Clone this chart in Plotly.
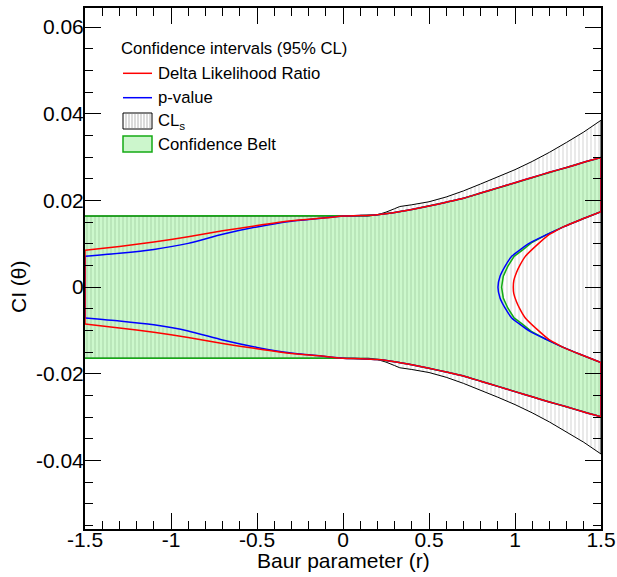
import plotly.graph_objects as go

# ---------------- data ----------------
x_tick_vals = [-1.5, -1.0, -0.5, 0.0, 0.5, 1.0, 1.5]
x_tick_text = ["-1.5", "-1", "-0.5", "0", "0.5", "1", "1.5"]
y_tick_vals = [-0.04, -0.02, 0.0, 0.02, 0.04, 0.06]
y_tick_text = ["-0.04", "-0.02", "0", "0.02", "0.04", "0.06"]

# CLs band (black boundary)
cls_x = [-1.5, -1.0, -0.5, 0.0, 0.1, 0.15, 0.2, 0.25, 0.3, 0.33, 0.4, 0.5,
         0.6, 0.7, 0.8, 0.9, 1.0, 1.1, 1.2, 1.3, 1.4, 1.5]
cls_upper = [0.0164, 0.0164, 0.0164, 0.0164, 0.0164, 0.0164, 0.0167, 0.0173,
             0.0181, 0.0186, 0.0190, 0.0197, 0.0208, 0.0222, 0.0238, 0.0254,
             0.0271, 0.0290, 0.0311, 0.0334, 0.0358, 0.0385]
cls_lower = [-0.0164, -0.0164, -0.0164, -0.0164, -0.0164, -0.0164, -0.0167, -0.0173,
             -0.0181, -0.0186, -0.0190, -0.0197, -0.0208, -0.0222, -0.0238, -0.0254,
             -0.0271, -0.0290, -0.0311, -0.0334, -0.0358, -0.0385]

# Confidence belt outer edges
belt_x = [-1.5, -1.0, -0.5, 0.0, 0.1, 0.2, 0.3, 0.4, 0.5, 0.6, 0.7, 0.8, 0.9,
          1.0, 1.1, 1.2, 1.3, 1.4, 1.5]
belt_upper = [0.0164, 0.0164, 0.0164, 0.0164, 0.0165, 0.0167, 0.0172, 0.0179,
              0.0187, 0.0196, 0.0205, 0.0217, 0.0229, 0.0241, 0.0253, 0.0265,
              0.0276, 0.0288, 0.0299]
belt_lower = [-0.0164, -0.0164, -0.0164, -0.0164, -0.0165, -0.0167, -0.0172, -0.0179,
              -0.0187, -0.0196, -0.0205, -0.0217, -0.0229, -0.0241, -0.0253, -0.0265,
              -0.0276, -0.0288, -0.0299]
# Confidence belt inner (right-hand) edge
belt_inner_y = [0.0174, 0.0155, 0.0139, 0.0121, 0.0102, 0.0086, 0.0071, 0.0048, 0.0025, 0.0,
                -0.0025, -0.0048, -0.0071, -0.0086, -0.0102, -0.0121, -0.0139, -0.0155, -0.0174]
belt_inner_x = [1.5, 1.378, 1.281, 1.184, 1.095, 1.045, 0.995, 0.958, 0.932, 0.922,
                0.932, 0.958, 0.995, 1.045, 1.095, 1.184, 1.281, 1.378, 1.5]

# outer curves of the two interval methods
curve_x = [-1.5, -1.3, -1.1, -0.9, -0.7, -0.5, -0.3, -0.1, 0.0, 0.1, 0.2, 0.3,
           0.4, 0.5, 0.6, 0.7, 0.8, 0.9, 1.0, 1.1, 1.2, 1.3, 1.4, 1.5]
dlr_upper = [0.0085, 0.0094, 0.0104, 0.0116, 0.0130, 0.0142, 0.0153, 0.0160,
             0.0164, 0.0165, 0.0167, 0.0172, 0.0179, 0.0187, 0.0196, 0.0205,
             0.0217, 0.0229, 0.0241, 0.0253, 0.0265, 0.0276, 0.0288, 0.0299]
dlr_lower = [-0.0085, -0.0094, -0.0104, -0.0116, -0.0130, -0.0142, -0.0153, -0.0160,
             -0.0164, -0.0165, -0.0167, -0.0172, -0.0179, -0.0187, -0.0196, -0.0205,
             -0.0217, -0.0229, -0.0241, -0.0253, -0.0265, -0.0276, -0.0288, -0.0299]
pval_upper = [0.0071, 0.0078, 0.0087, 0.0101, 0.0122, 0.0139, 0.0152, 0.0160,
              0.0164, 0.0165, 0.0167, 0.0172, 0.0179, 0.0187, 0.0196, 0.0205,
              0.0217, 0.0229, 0.0241, 0.0253, 0.0265, 0.0276, 0.0288, 0.0299]
pval_lower = [-0.0071, -0.0078, -0.0087, -0.0101, -0.0122, -0.0139, -0.0152, -0.0160,
              -0.0164, -0.0165, -0.0167, -0.0172, -0.0179, -0.0187, -0.0196, -0.0205,
              -0.0217, -0.0229, -0.0241, -0.0253, -0.0265, -0.0276, -0.0288, -0.0299]

# inner (right-hand) curves
dlr_inner_y = [0.0174, 0.0155, 0.0139, 0.0130, 0.0121, 0.0098, 0.0071, 0.0050, 0.0033, 0.0015, 0.0,
               -0.0015, -0.0033, -0.0050, -0.0071, -0.0098, -0.0121, -0.0130, -0.0139, -0.0155, -0.0174]
dlr_inner_x = [1.5, 1.378, 1.281, 1.238, 1.198, 1.13, 1.06, 1.028, 1.008, 0.993, 0.99,
               0.993, 1.008, 1.028, 1.06, 1.13, 1.198, 1.238, 1.281, 1.378, 1.5]
pval_inner_y = [0.0174, 0.0155, 0.0139, 0.0121, 0.0102, 0.0086, 0.0071, 0.0048, 0.0025, 0.0,
                -0.0025, -0.0048, -0.0071, -0.0086, -0.0102, -0.0121, -0.0139, -0.0155, -0.0174]
pval_inner_x = [1.5, 1.378, 1.281, 1.184, 1.087, 1.029, 0.981, 0.942, 0.913, 0.901,
                0.913, 0.942, 0.981, 1.029, 1.087, 1.184, 1.281, 1.378, 1.5]

legend_title = "Confidence intervals (95% CL)"
legend_labels = ["Delta Likelihood Ratio", "p-value", "CL<sub>s</sub>", "Confidence Belt"]

# ---------------- styles ----------------
RED = "#ff0000"
BLUE = "#0000ff"
GREEN = "rgb(20,170,20)"
GREEN_FILL = "rgba(0,220,0,0.2)"
HATCH = "#cfcfcf"

W, H = 617, 577
ML, MR, MT, MB = 85, 16, 8, 48
PW, PH = W - ML - MR, H - MT - MB


def pxx(p):  # pixel column -> paper x
    return (p - ML) / PW


def pxy(p):  # pixel row -> paper y
    return (H - MB - p) / PH


fig = go.Figure()

# CLs hatched band
fig.add_trace(go.Scatter(
    x=cls_x + cls_x[::-1], y=cls_upper + cls_lower[::-1],
    fill="toself", mode="lines", showlegend=False,
    line=dict(color="black", width=1),
    fillcolor="white",
    fillpattern=dict(shape="|", fgcolor=HATCH, bgcolor="white", size=4, solidity=0.45),
    hoverinfo="skip"))

# Confidence belt
bx = belt_x + belt_inner_x + belt_x[::-1]
by = belt_upper + belt_inner_y + belt_lower[::-1]
fig.add_trace(go.Scatter(
    x=bx, y=by, fill="toself", mode="lines", showlegend=False,
    line=dict(color=GREEN, width=1.5), fillcolor=GREEN_FILL, hoverinfo="skip"))


def region_outline(upper, lower, ix, iy):
    """Smooth curves plus the straight closing edges at the x-range borders."""
    xl, xr = curve_x[0], curve_x[-1]
    segs_x = [curve_x, curve_x, ix,
              [xl, xl], [xr, xr], [xr, xr]]
    segs_y = [upper, lower, iy,
              [upper[0], lower[0]], [upper[-1], iy[0]], [iy[-1], lower[-1]]]
    X, Y = [], []
    for xs, ys in zip(segs_x, segs_y):
        X += list(xs) + [None]
        Y += list(ys) + [None]
    return X[:-1], Y[:-1]


px_, py_ = region_outline(pval_upper, pval_lower, pval_inner_x, pval_inner_y)
fig.add_trace(go.Scatter(x=px_, y=py_, mode="lines", showlegend=False,
                         line=dict(color=BLUE, width=1.5, shape="spline", smoothing=0.6),
                         connectgaps=False, hoverinfo="skip"))
dx_, dy_ = region_outline(dlr_upper, dlr_lower, dlr_inner_x, dlr_inner_y)
fig.add_trace(go.Scatter(x=dx_, y=dy_, mode="lines", showlegend=False,
                         line=dict(color=RED, width=1.5, shape="spline", smoothing=0.6),
                         connectgaps=False, hoverinfo="skip"))

axis_common = dict(
    showgrid=False, zeroline=False, showline=True, linecolor="black", linewidth=2,
    mirror="allticks", ticks="inside", ticklen=16, tickwidth=1, tickcolor="black",
    tickfont=dict(size=21, color="black"),
)

fig.update_xaxes(
    range=[-1.5, 1.5], tickmode="array", tickvals=x_tick_vals, ticktext=x_tick_text,
    minor=dict(tickmode="linear", tick0=-1.5, dtick=0.1, ticks="inside", ticklen=8,
               tickcolor="black", tickwidth=1),
    ticklabelstandoff=-9,
    **axis_common)
fig.update_yaxes(
    range=[-0.0558, 0.0644], tickmode="array", tickvals=y_tick_vals, ticktext=y_tick_text,
    minor=dict(tickmode="linear", tick0=0.0, dtick=0.005, ticks="inside", ticklen=8,
               tickcolor="black", tickwidth=1),
    ticklabelstandoff=-5,
    **axis_common)

# ----- manual legend (pixel layout converted to paper coordinates) -----
shapes = []
annotations = []
sx0, sx1 = pxx(123), pxx(152)
shapes.append(dict(type="line", xref="paper", yref="paper", x0=sx0, x1=sx1,
                   y0=pxy(73.3), y1=pxy(73.3), line=dict(color=RED, width=1.5)))
shapes.append(dict(type="line", xref="paper", yref="paper", x0=sx0, x1=sx1,
                   y0=pxy(97.7), y1=pxy(97.7), line=dict(color=BLUE, width=1.5)))
shapes.append(dict(type="rect", xref="paper", yref="paper", x0=sx0, x1=sx1,
                   y0=pxy(129), y1=pxy(113), fillcolor="white",
                   line=dict(color="black", width=1)))
for hx in range(126, 152, 3):
    shapes.append(dict(type="line", xref="paper", yref="paper", x0=pxx(hx), x1=pxx(hx),
                       y0=pxy(128), y1=pxy(114), line=dict(color=HATCH, width=1.5)))
shapes.append(dict(type="rect", xref="paper", yref="paper", x0=sx0, x1=sx1,
                   y0=pxy(152), y1=pxy(136), fillcolor="rgb(204,246,204)",
                   line=dict(color=GREEN, width=1.5)))

annotations.append(dict(text=legend_title, xref="paper", yref="paper", x=pxx(119),
                        y=pxy(48), xanchor="left", yanchor="middle", showarrow=False,
                        font=dict(size=16.7, color="black")))
for lab, yy in zip(legend_labels, [73.3, 97.7, 121, 144]):
    annotations.append(dict(text=lab, xref="paper", yref="paper", x=pxx(156),
                            y=pxy(yy), xanchor="left", yanchor="middle", showarrow=False,
                            font=dict(size=16.7, color="black")))

annotations.append(dict(text="Baur parameter (r)", xref="paper", yref="paper",
                        x=pxx(343), y=pxy(560), xanchor="center", yanchor="middle",
                        showarrow=False, font=dict(size=21, color="black")))
annotations.append(dict(text="CI (θ)", xref="paper", yref="paper",
                        x=pxx(18), y=pxy(287), xanchor="center", yanchor="middle",
                        textangle=-90, showarrow=False, font=dict(size=21, color="black")))

fig.update_layout(
    width=W, height=H,
    margin=dict(l=ML, r=MR, t=MT, b=MB, autoexpand=False),
    paper_bgcolor="white", plot_bgcolor="white",
    font=dict(family="Liberation Sans, Arial, sans-serif", color="black"),
    showlegend=False,
    shapes=shapes, annotations=annotations,
)

fig.write_html("out.html", config={"displayModeBar": False},
               post_script="document.body.style.margin='0px';document.body.style.padding='0px';")
